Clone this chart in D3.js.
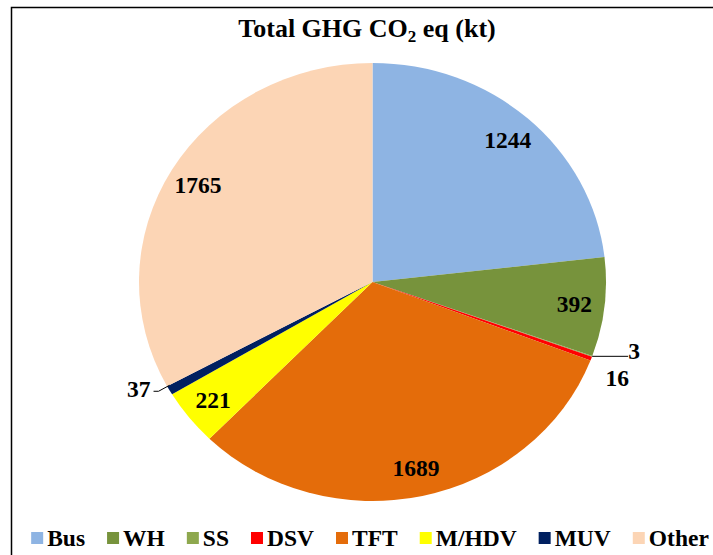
<!DOCTYPE html>
<html>
<head>
<meta charset="utf-8">
<script src="https://cdn.jsdelivr.net/npm/d3@7"></script>
</head>
<body style="margin:0; background:#fff">
<svg width="713" height="555"></svg>
<script>
// data
var categories = ["Bus", "WH", "SS", "DSV", "TFT", "M/HDV", "MUV", "Other"];
var values = [1244, 392, 3, 16, 1689, 221, 37, 1765];
var colors = ["#8EB4E3", "#77933C", "#8EA84E", "#FF0000", "#E46C0A", "#FFFF00", "#002060", "#FCD5B5"];

var svg = d3.select("svg"),
  width = +svg.attr("width"),
  height = +svg.attr("height");

// text helper so every label gets the serif face
function txt(sel, size) {
  return sel.append("text")
    .style("font-family", "Liberation Serif")
    .style("font-weight", "bold")
    .style("font-size", size + "px");
}

// frame (runs off the right and bottom edges)
svg.append("rect")
  .attr("x", 11.5).attr("y", 7.5)
  .attr("width", 800).attr("height", 800)
  .attr("fill", "none").attr("stroke", "#000").attr("stroke-width", 1.5);

// title
var title = txt(svg, 26)
  .attr("x", 367).attr("y", 37)
  .attr("text-anchor", "middle");
title.append("tspan").text("Total GHG CO");
title.append("tspan").attr("dy", 5).style("font-size", "17px").text("2");
title.append("tspan").attr("dy", -5).text(" eq (kt)");

// pie is a bit wider than tall
var cx = 372.5, cy = 282, r = 219, sx = 233.5 / 219;

var data = categories.map(function (c, i) {
  return { name: c, value: values[i], color: colors[i] };
});

var pie = d3.pie().sort(null).value(function (d) { return d.value; });
var arcs = pie(data);
var arc = d3.arc().innerRadius(0).outerRadius(r);

var g = svg.append("g")
  .attr("transform", "translate(" + cx + "," + cy + ") scale(" + sx + ",1)");

g.selectAll("path")
  .data(arcs)
  .enter()
  .append("path")
  .attr("d", arc)
  .attr("fill", function (d) { return d.data.color; });

// point on a radius (fraction of r) at the slice's mid angle, in page coords
function pt(d, k) {
  var a = (d.startAngle + d.endAngle) / 2;
  return [cx + Math.sin(a) * r * k * sx, cy - Math.cos(a) * r * k];
}

var labels = svg.append("g");
var fs = 23.5;

// labels inside the big slices
arcs.filter(function (d) { return d.value > 100; }).forEach(function (d) {
  var p = pt(d, 0.87);
  txt(labels, fs)
    .attr("x", p[0]).attr("y", p[1])
    .attr("dy", "0.35em")
    .attr("text-anchor", "middle")
    .text(d.value);
});

// small slices get outside labels
var ss = arcs[2], dsv = arcs[3], muv = arcs[6];

var p = pt(ss, 1);
labels.append("path")
  .attr("d", "M" + p[0] + "," + p[1] + "H" + (p[0] + 36))
  .attr("stroke", "#000").attr("fill", "none").attr("stroke-width", 1);
txt(labels, fs)
  .attr("x", p[0] + 36).attr("y", p[1] + 3)
  .attr("text-anchor", "start")
  .text(ss.value);

p = pt(dsv, 1);
txt(labels, fs)
  .attr("x", p[0] + 26).attr("y", p[1] + 19)
  .attr("dy", "0.35em")
  .attr("text-anchor", "middle")
  .text(dsv.value);

p = pt(muv, 1);
labels.append("path")
  .attr("d", "M" + p[0] + "," + (p[1] - 5) + "L" + (p[0] - 11) + "," + (p[1] + 1) + "H" + (p[0] - 16))
  .attr("stroke", "#000").attr("fill", "none").attr("stroke-width", 1);
txt(labels, fs)
  .attr("x", p[0] - 19).attr("y", p[1] - 2)
  .attr("dy", "0.35em")
  .attr("text-anchor", "end")
  .text(muv.value);

// legend, laid out in one row and centred
var legend = svg.append("g");
var gap = 22;
var xpos = 0;
data.forEach(function (d) {
  var item = legend.append("g").attr("transform", "translate(" + xpos + ",0)");
  item.append("rect")
    .attr("x", 0).attr("y", 532)
    .attr("width", 12).attr("height", 12)
    .attr("fill", d.color);
  var t = txt(item, fs)
    .attr("x", 16).attr("y", 546)
    .text(d.name);
  xpos += 16 + t.node().getComputedTextLength() + gap;
});
var legendW = xpos - gap;
legend.attr("transform", "translate(" + (370 - legendW / 2) + ",0)");
</script>
</body>
</html>
